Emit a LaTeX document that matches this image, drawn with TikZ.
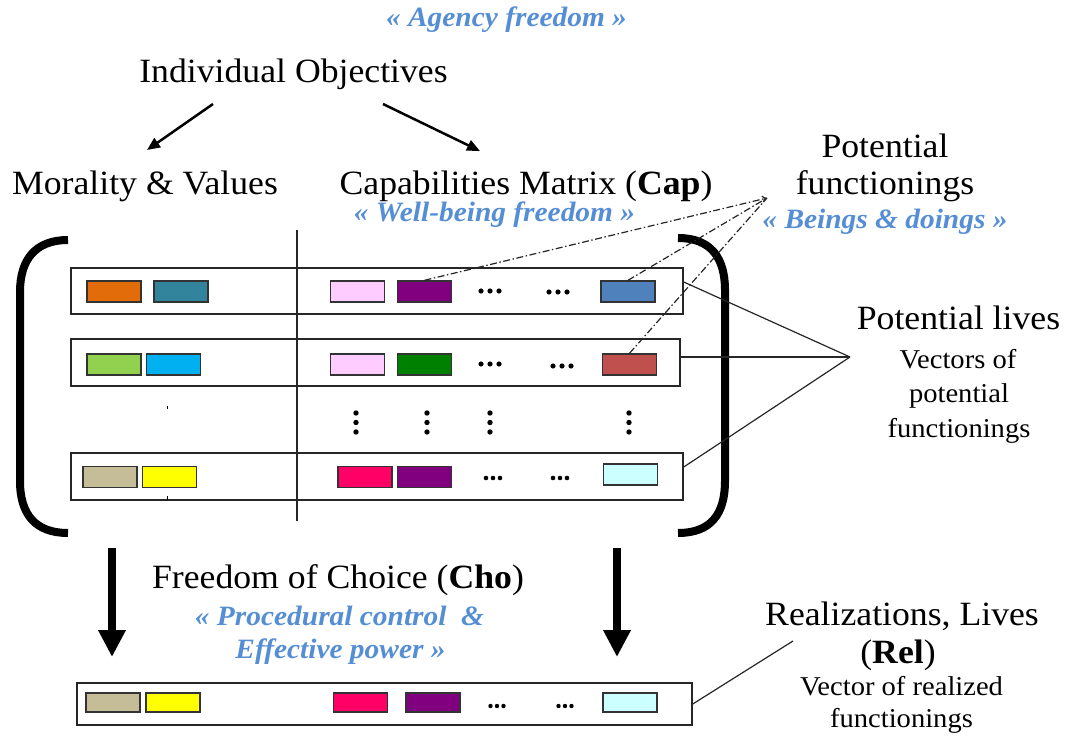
\documentclass[tikz,border=0pt]{standalone}
\usepackage{fontspec}
\setmainfont{Liberation Serif}
\usetikzlibrary{arrows.meta,calc}
\definecolor{cOrange}{HTML}{E36C0A}
\definecolor{cTeal}{HTML}{31849B}
\definecolor{cPink}{HTML}{FFCCFF}
\definecolor{cPurple}{HTML}{800080}
\definecolor{cBlue}{HTML}{4F81BD}
\definecolor{cGreenL}{HTML}{92D050}
\definecolor{cCyan}{HTML}{00B0F0}
\definecolor{cGreenD}{HTML}{008000}
\definecolor{cRed}{HTML}{C0504D}
\definecolor{cTan}{HTML}{C4BD97}
\definecolor{cYellow}{HTML}{FFFF00}
\definecolor{cMag}{HTML}{FF0066}
\definecolor{cLCyan}{HTML}{CCFFFF}
\definecolor{txtBlue}{HTML}{558ED5}
\definecolor{lineGray}{HTML}{262626}
\newcommand\hdots[4]{\foreach \k in {-1,0,1}{\fill (#1+\k*#3,#2) circle (#4);}}
\newcommand\vdotsat[1]{\foreach \k in {413,422.5,432}{\fill (#1,\k) circle (2.7);}}
\begin{document}
\begin{tikzpicture}[x=1pt,y=-1pt,
  bigtxt/.style={anchor=base,inner sep=0pt,xscale=1.05,font=\fontsize{34}{38}\selectfont},
  smalltxt/.style={anchor=base,inner sep=0pt,xscale=1.05,font=\fontsize{27.2}{31}\selectfont},
  bluetxt/.style={anchor=base,inner sep=0pt,xscale=1.05,text=txtBlue,font=\fontsize{28}{32}\selectfont\bfseries\itshape},
  rowbox/.style={draw=lineGray,line width=1.5pt,fill=white,inner sep=0pt},
  cell/.style={draw=black!80,line width=1.4pt,inner sep=0pt,minimum width=54pt,minimum height=21pt},
  bcell/.style={cell,minimum height=19pt},
  thinline/.style={draw=lineGray,line width=1.2pt},
  dashdot/.style={draw=lineGray,line width=1.2pt,dash pattern=on 7pt off 2.5pt on 1.5pt off 2.5pt},
  bracket/.style={draw=black,line width=8pt},
  bigarrow/.style={draw=black,line width=8pt,-{Triangle[length=27pt,width=26pt]}},
  toparrow/.style={draw=black,line width=2.5pt,-{Triangle[length=13pt,width=11pt]}}
]
\path[use as bounding box,fill=white] (0,0) rectangle (1069,746);

% ---- texts ----
\node[bluetxt] (agency) at (506.5,27) {« Agency freedom »};
\node[bigtxt] (io) at (293.5,83) {Individual Objectives};
\node[bigtxt] (mv) at (145,195) {Morality \& Values};
\node[bigtxt] (cm) at (526,195) {Capabilities Matrix (\textbf{Cap})};
\node[bluetxt] (wb) at (494.5,222) {« Well-being freedom »};
\node[bigtxt] (pf1) at (885,158) {Potential};
\node[bigtxt] (pf2) at (885,195) {functionings};
\node[bluetxt] (bd) at (885,229) {« Beings \& doings »};
\node[bigtxt] (pl) at (958.5,330) {Potential lives};
\node[smalltxt] (v1) at (958,368) {Vectors of};
\node[smalltxt] (v2) at (959,402) {potential};
\node[smalltxt] (v3) at (959,437) {functionings};
\node[bigtxt] (fc) at (338,588) {Freedom of Choice (\textbf{Cho})};
\node[bluetxt] (pc1) at (339.5,625) {« Procedural control\ \ \&};
\node[bluetxt] (pc2) at (340.5,658) {Effective power »};
\node[bigtxt] (rl) at (902,625) {Realizations, Lives};
\node[bigtxt] (rel) at (898,663) {(\textbf{Rel})};
\node[smalltxt] (vr) at (901.5,695) {Vector of realized};
\node[smalltxt] (vf) at (901.5,727) {functionings};

% ---- top arrows ----
\coordinate (ioL) at (213,104);
\coordinate (ioR) at (383,104);
\coordinate (mvT) at (147,150);
\coordinate (cmT) at (480,151);
\draw[toparrow] (ioL) -- (mvT);
\draw[toparrow] (ioR) -- (cmT);

% ---- brackets ----
\draw[bracket] (68,240) .. controls (35,240) and (20,260) .. (20,292) -- (20,481) .. controls (20,514) and (35,533) .. (68,533);
\draw[bracket] (678,238) .. controls (711,238) and (725,258) .. (725,290) -- (725,481) .. controls (725,514) and (711,533) .. (678,533);

% ---- row boxes ----
\node[rowbox,minimum width=612pt,minimum height=46pt] (r1) at (377,291) {};
\node[rowbox,minimum width=609pt,minimum height=47pt] (r2) at (375.5,362.5) {};
\node[rowbox,minimum width=612pt,minimum height=47pt] (r3) at (377,476.5) {};
\node[rowbox,minimum width=615pt,minimum height=42pt] (rb) at (384.5,704) {};
% divider
\draw[draw=lineGray,line width=1.3pt] (297,230) -- (297,521);

% ---- row 1 ----
\node[cell,fill=cOrange] (r1a) at (114,291.5) {};
\node[cell,fill=cTeal] (r1b) at (181,291.5) {};
\node[cell,fill=cPink] (r1c) at (357.5,291.5) {};
\node[cell,fill=cPurple] (r1d) at (424.5,291.5) {};
\node[cell,fill=cBlue] (r1e) at (628,291.5) {};
\hdots{490}{291}{9}{2.6}
\hdots{558}{292}{9}{2.6}
% ---- row 2 ----
\node[cell,fill=cGreenL] (r2a) at (114,364.5) {};
\node[cell,fill=cCyan] (r2b) at (173.5,364.5) {};
\node[cell,fill=cPink] (r2c) at (357.5,364.5) {};
\node[cell,fill=cGreenD] (r2d) at (424.5,364.5) {};
\node[cell,fill=cRed] (r2e) at (629.5,364.5) {};
\hdots{490}{364}{9}{2.6}
\hdots{562}{366}{9}{2.6}
% ---- vertical dots ----
\vdotsat{356}
\vdotsat{427}
\vdotsat{490}
\vdotsat{629}
\draw[line width=1pt] (167,406) -- (167,408.5);
% ---- row 3 ----
\node[cell,fill=cTan] (r3a) at (110,477) {};
\node[cell,fill=cYellow] (r3b) at (169.5,477) {};
\node[cell,fill=cMag] (r3c) at (365,477) {};
\node[cell,fill=cPurple] (r3d) at (424.5,477) {};
\node[cell,fill=cLCyan] (r3e) at (630.5,474.5) {};
\hdots{493}{478}{7}{2.3}
\hdots{560}{478}{7}{2.3}
\draw[line width=1pt] (167,496) -- (167,500);
% ---- bottom row ----
\node[bcell,fill=cTan] (ba) at (113,702.5) {};
\node[bcell,fill=cYellow] (bb) at (173,702.5) {};
\node[bcell,fill=cMag] (bc) at (360.5,702.5) {};
\node[bcell,fill=cPurple] (bdd) at (433,702.5) {};
\node[bcell,fill=cLCyan] (be) at (630,702.5) {};
\hdots{497}{706}{6.5}{2.2}
\hdots{565}{706}{6.5}{2.2}

% ---- potential functionings (dash-dot) ----
\coordinate (pfApex) at (767,198);
\draw[dashdot] (r1e.north) -- (pfApex);
\draw[dashdot] (r2e.north) -- (pfApex);
\draw[dashdot,-{To[length=5pt,width=7pt]}] (r1d.north) -- (pfApex);

% ---- potential lives ----
\coordinate (plApex) at (850,357);
\draw[thinline] ([yshift=9pt]r1.east) -- (plApex);
\draw[thinline] ([yshift=5.5pt]r2.east) -- (plApex);
\draw[thinline] ([yshift=9.5pt]r3.east) -- (plApex);

% ---- realizations ----
\coordinate (rlC) at (793,641);
\draw[thinline] (rb.east) -- (rlC);

% ---- down arrows ----
\coordinate (dl1) at (112,548);
\coordinate (dl2) at (112,657);
\coordinate (dr1) at (617,548);
\coordinate (dr2) at (617,657);
\draw[bigarrow] (dl1) -- (dl2);
\draw[bigarrow] (dr1) -- (dr2);
\end{tikzpicture}
\end{document}
